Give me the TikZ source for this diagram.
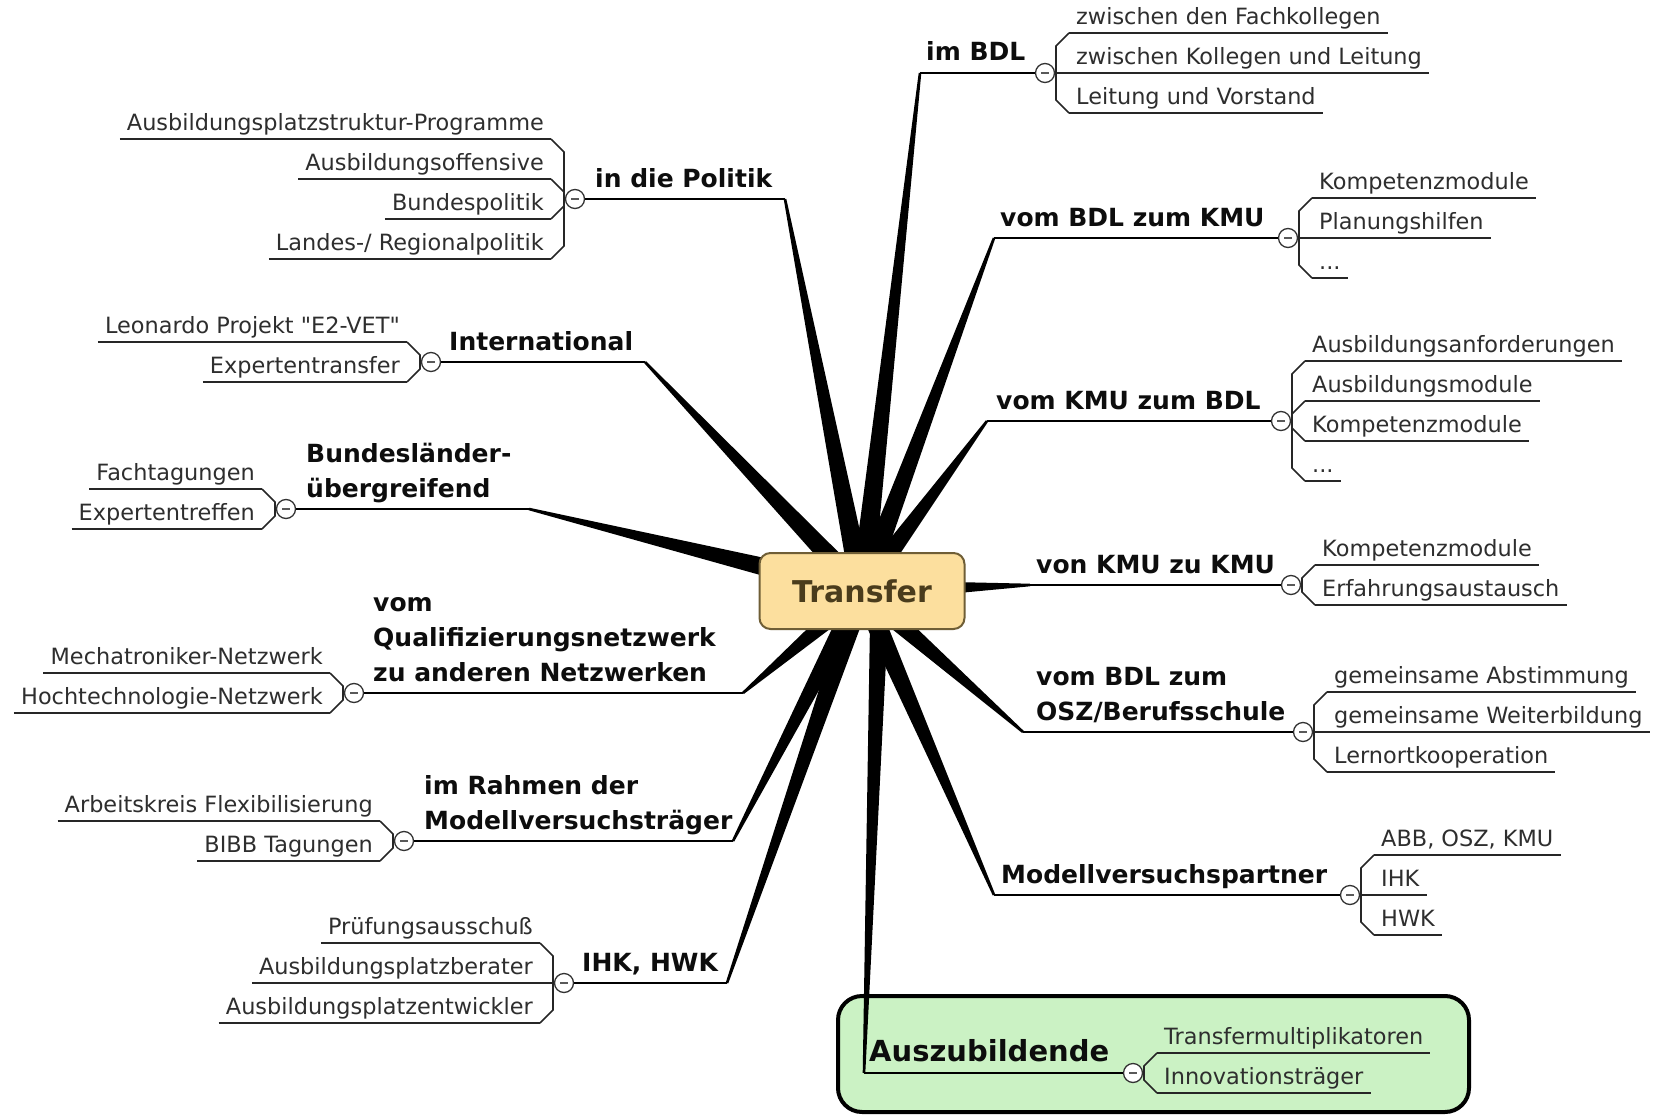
\documentclass[tikz,border=0pt]{standalone}
\usepackage{fontspec}
\setmainfont{DejaVu Sans}[Ligatures=TeXOff]
\usetikzlibrary{calc}
\definecolor{tfill}{HTML}{FCDF9E}
\definecolor{tdraw}{HTML}{6F5E36}
\definecolor{ttext}{HTML}{4A3C1C}
\definecolor{gfill}{HTML}{CBF2C4}
\definecolor{kidtext}{HTML}{2E2E2E}
\newcommand\kidfont{\fontsize{22.4}{27}\selectfont}
\newcommand\topicfont{\fontsize{25}{35}\selectfont\bfseries}
\newcommand\minusbar{\rule{8pt}{2.2pt}}
\newcommand\spoke[3]{\fill ($(#1)!#3!90:(#2)$) -- ($(#2)!1.3pt!-90:(#1)$) -- ($(#2)!1.3pt!90:(#1)$) -- ($(#1)!#3!-90:(#2)$) -- cycle;}
\tikzset{
  kidR/.style={anchor=south west, inner xsep=7pt, inner ysep=3.5pt, text depth=5pt, font=\kidfont, text=kidtext},
  kidL/.style={kidR, anchor=south east},
  topic/.style={anchor=base west, inner sep=0pt, font=\topicfont, align=left, text=black!95},
  kidline/.style={line width=1.6pt, black!85},
  mainline/.style={line width=2.2pt, black},
  toggle/.style={circle, draw=black!80, line width=1.3pt, fill=white, minimum size=19pt, inner sep=0pt, text=black!65},
}
\begin{document}
\begin{tikzpicture}[x=1pt,y=-1pt]
\useasboundingbox (0,0) rectangle (1658,1116);
\fill[white] (0,0) rectangle (1658,1116);

% green highlight box
\node[draw=black, line width=4pt, rounded corners=24pt, fill=gfill, minimum width=631pt, minimum height=116pt, inner sep=0pt] (gbox) at (1153.5,1054) {};

% centre and joints
\coordinate (Tc) at (862,591);
\coordinate (Tg) at (880,591);
\coordinate (jA) at (920,73);
\coordinate (jB) at (994,238);
\coordinate (jC) at (987,421);
\coordinate (jD) at (1030,585);
\coordinate (jE) at (1023,732);
\coordinate (jF) at (994,895);
\coordinate (jG) at (864,1073);
\coordinate (jH) at (785,199);
\coordinate (jI) at (645,362);
\coordinate (jJ) at (529,509);
\coordinate (jK) at (743,693);
\coordinate (jL) at (733,841);
\coordinate (jM) at (727,983);

% spokes
\spoke{Tc}{jA}{11pt}
\spoke{Tc}{jB}{11pt}
\spoke{Tc}{jC}{11pt}
\spoke{Tc}{jD}{11pt}
\spoke{Tc}{jE}{11pt}
\spoke{Tc}{jF}{11pt}
\spoke{Tg}{jG}{9.5pt}
\spoke{Tc}{jH}{11pt}
\spoke{Tc}{jI}{11pt}
\spoke{Tc}{jJ}{12pt}
\spoke{Tc}{jK}{11pt}
\spoke{Tc}{jL}{11pt}
\spoke{Tc}{jM}{11pt}

% central topic
\node[draw=tdraw, line width=2pt, fill=tfill, rounded corners=11pt, minimum width=205pt, minimum height=76pt, text=ttext, font=\fontsize{30}{36}\selectfont\bfseries] (T) at (Tc) {Transfer};

% ---------- right side ----------
% A im BDL
\node[toggle] (cA) at (1045,73) {\minusbar};
\node[topic] (tA) at (926,61) {im BDL};
\node[kidR] (kA1) at (1069,33) {zwischen den Fachkollegen};
\node[kidR] (kA2) at (1069,73) {zwischen Kollegen und Leitung};
\node[kidR] (kA3) at (1069,113) {Leitung und Vorstand};
\draw[mainline] (jA) -- (cA);
\draw[kidline] (kA1.south west) -- ++(-13,13) -- ($(kA3.south west)+(-13,-13)$) -- (kA3.south west);
\draw[kidline] (kA2.south west) -- ++(-13,0);

% B vom BDL zum KMU
\node[toggle] (cB) at (1288,238) {\minusbar};
\node[topic] (tB) at (1000,226) {vom BDL zum KMU};
\node[kidR] (kB1) at (1312,198) {Kompetenzmodule};
\node[kidR] (kB2) at (1312,238) {Planungshilfen};
\node[kidR] (kB3) at (1312,278) {...};
\draw[mainline] (jB) -- (cB);
\draw[kidline] (kB1.south west) -- ++(-13,13) -- ($(kB3.south west)+(-13,-13)$) -- (kB3.south west);
\draw[kidline] (kB2.south west) -- ++(-13,0);

% C vom KMU zum BDL
\node[toggle] (cC) at (1281,421) {\minusbar};
\node[topic] (tC) at (996,409) {vom KMU zum BDL};
\node[kidR] (kC1) at (1305,361) {Ausbildungsanforderungen};
\node[kidR] (kC2) at (1305,401) {Ausbildungsmodule};
\node[kidR] (kC3) at (1305,441) {Kompetenzmodule};
\node[kidR] (kC4) at (1305,481) {...};
\draw[mainline] (jC) -- (cC);
\draw[kidline] (kC1.south west) -- ++(-13,13) -- ($(kC4.south west)+(-13,-13)$) -- (kC4.south west);
\draw[kidline] (kC2.south west) -- ++(-13,13);
\draw[kidline] (kC3.south west) -- ++(-13,-13);

% D von KMU zu KMU
\node[toggle] (cD) at (1291,585) {\minusbar};
\node[topic] (tD) at (1036,573) {von KMU zu KMU};
\node[kidR] (kD1) at (1315,565) {Kompetenzmodule};
\node[kidR] (kD2) at (1315,605) {Erfahrungsaustausch};
\draw[mainline] (jD) -- (cD);
\draw[kidline] (kD1.south west) -- ++(-13,13) -- ($(kD2.south west)+(-13,-13)$) -- (kD2.south west);

% E vom BDL zum OSZ/Berufsschule
\node[toggle] (cE) at (1303,732) {\minusbar};
\node[topic] (tE) at (1036,720) {vom BDL zum\\OSZ/Berufsschule};
\node[kidR] (kE1) at (1327,692) {gemeinsame Abstimmung};
\node[kidR] (kE2) at (1327,732) {gemeinsame Weiterbildung};
\node[kidR] (kE3) at (1327,772) {Lernortkooperation};
\draw[mainline] (jE) -- (cE);
\draw[kidline] (kE1.south west) -- ++(-13,13) -- ($(kE3.south west)+(-13,-13)$) -- (kE3.south west);
\draw[kidline] (kE2.south west) -- ++(-13,0);

% F Modellversuchspartner
\node[toggle] (cF) at (1350,895) {\minusbar};
\node[topic] (tF) at (1001,883) {Modellversuchspartner};
\node[kidR] (kF1) at (1374,855) {ABB, OSZ, KMU};
\node[kidR] (kF2) at (1374,895) {IHK};
\node[kidR] (kF3) at (1374,935) {HWK};
\draw[mainline] (jF) -- (cF);
\draw[kidline] (kF1.south west) -- ++(-13,13) -- ($(kF3.south west)+(-13,-13)$) -- (kF3.south west);
\draw[kidline] (kF2.south west) -- ++(-13,0);

% G Auszubildende
\node[toggle] (cG) at (1133,1073) {\minusbar};
\node[topic, font=\fontsize{29}{35}\selectfont\bfseries] (tG) at (869,1061) {Auszubildende};
\node[kidR] (kG1) at (1157,1053) {Transfermultiplikatoren};
\node[kidR] (kG2) at (1157,1093) {Innovationsträger};
\draw[mainline] (jG) -- (cG);
\draw[kidline] (kG1.south west) -- ++(-13,13) -- ($(kG2.south west)+(-13,-13)$) -- (kG2.south west);

% ---------- left side ----------
% H in die Politik
\node[toggle] (cH) at (575,199) {\minusbar};
\node[topic] (tH) at (595,187) {in die Politik};
\node[kidL] (kH1) at (551,139) {Ausbildungsplatzstruktur-Programme};
\node[kidL] (kH2) at (551,179) {Ausbildungsoffensive};
\node[kidL] (kH3) at (551,219) {Bundespolitik};
\node[kidL] (kH4) at (551,259) {Landes-/ Regionalpolitik};
\draw[mainline] (jH) -- (cH);
\draw[kidline] (kH1.south east) -- ++(13,13) -- ($(kH4.south east)+(13,-13)$) -- (kH4.south east);
\draw[kidline] (kH2.south east) -- ++(13,13);
\draw[kidline] (kH3.south east) -- ++(13,-13);

% I International
\node[toggle] (cI) at (431,362) {\minusbar};
\node[topic] (tI) at (449,350) {International};
\node[kidL] (kI1) at (407,342) {Leonardo Projekt "E2-VET"};
\node[kidL] (kI2) at (407,382) {Expertentransfer};
\draw[mainline] (jI) -- (cI);
\draw[kidline] (kI1.south east) -- ++(13,13) -- ($(kI2.south east)+(13,-13)$) -- (kI2.south east);

% J Bundeslaender-uebergreifend
\node[toggle] (cJ) at (286,509) {\minusbar};
\node[topic] (tJ) at (306,497) {Bundesländer-\\übergreifend};
\node[kidL] (kJ1) at (262,489) {Fachtagungen};
\node[kidL] (kJ2) at (262,529) {Expertentreffen};
\draw[mainline] (jJ) -- (cJ);
\draw[kidline] (kJ1.south east) -- ++(13,13) -- ($(kJ2.south east)+(13,-13)$) -- (kJ2.south east);

% K vom Qualifizierungsnetzwerk
\node[toggle] (cK) at (354,693) {\minusbar};
\node[topic] (tK) at (373,681) {vom\\Qualifizierungsnetzwerk\\zu anderen Netzwerken};
\node[kidL] (kK1) at (330,673) {Mechatroniker-Netzwerk};
\node[kidL] (kK2) at (330,713) {Hochtechnologie-Netzwerk};
\draw[mainline] (jK) -- (cK);
\draw[kidline] (kK1.south east) -- ++(13,13) -- ($(kK2.south east)+(13,-13)$) -- (kK2.south east);

% L im Rahmen der Modellversuchstraeger
\node[toggle] (cL) at (404,841) {\minusbar};
\node[topic] (tL) at (424,829) {im Rahmen der\\Modellversuchsträger};
\node[kidL] (kL1) at (380,821) {Arbeitskreis Flexibilisierung};
\node[kidL] (kL2) at (380,861) {BIBB Tagungen};
\draw[mainline] (jL) -- (cL);
\draw[kidline] (kL1.south east) -- ++(13,13) -- ($(kL2.south east)+(13,-13)$) -- (kL2.south east);

% M IHK, HWK
\node[toggle] (cM) at (564,983) {\minusbar};
\node[topic] (tM) at (582,971) {IHK, HWK};
\node[kidL] (kM1) at (540,943) {Prüfungsausschuß};
\node[kidL] (kM2) at (540,983) {Ausbildungsplatzberater};
\node[kidL] (kM3) at (540,1023) {Ausbildungsplatzentwickler};
\draw[mainline] (jM) -- (cM);
\draw[kidline] (kM1.south east) -- ++(13,13) -- ($(kM3.south east)+(13,-13)$) -- (kM3.south east);
\draw[kidline] (kM2.south east) -- ++(13,0);

% underlines of all sub-items
\foreach \k in {kA1,kA2,kA3,kB1,kB2,kB3,kC1,kC2,kC3,kC4,kD1,kD2,kE1,kE2,kE3,kF1,kF2,kF3,kG1,kG2,kH1,kH2,kH3,kH4,kI1,kI2,kJ1,kJ2,kK1,kK2,kL1,kL2,kM1,kM2,kM3}
  \draw[kidline] (\k.south west) -- (\k.south east);
\end{tikzpicture}
\end{document}
